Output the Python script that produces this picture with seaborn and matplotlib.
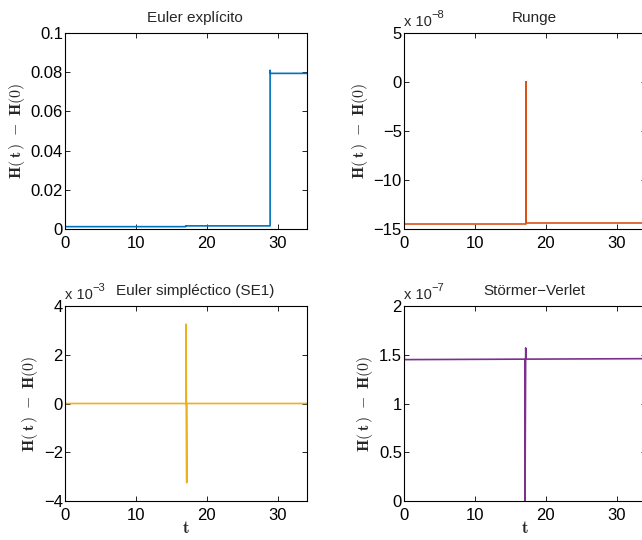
import numpy as np
import pandas as pd
import matplotlib
matplotlib.use("Agg")
import matplotlib.pyplot as plt
import seaborn as sns
from matplotlib.ticker import FuncFormatter
from matplotlib.transforms import offset_copy

# ---------------- data ----------------
titles = ["Euler explícito", "Runge", "Euler simpléctico (SE1)", "Störmer−Verlet"]
colors = ["#0072BD", "#D95319", "#EDB120", "#7E2F8E"]
exponents = [None, -8, -3, -7]

t_euler = [0, 17.0, 17.0, 28.9, 28.9, 28.95, 34.2]
h_euler = [0.0012, 0.0012, 0.0016, 0.0016, 0.081, 0.0794, 0.0794]

t_runge = [0, 0, 17.15, 17.15, 17.25, 17.25, 34.2]
h_runge = [0.0, -14.5, -14.5, 0.0, 0.0, -14.4, -14.4]          # x 1e-8

t_se1 = [0, 0, 17.05, 17.05, 17.15, 17.15, 34.2]
h_se1 = [0.3, 0.0, 0.0, 3.25, -3.25, 0.0, 0.0]                 # x 1e-3

t_sv = [0, 0, 0.05, 17.05, 17.05, 17.15, 17.2, 34.2]
h_sv = [0.0, 1.57, 1.45, 1.455, 0.0, 1.57, 1.455, 1.46]        # x 1e-7

series_t = [t_euler, t_runge, t_se1, t_sv]
series_h = [h_euler, h_runge, h_se1, h_sv]

ylims = [(0, 0.1), (-15, 5), (-4, 4), (0, 2)]
yticks = [[0, 0.02, 0.04, 0.06, 0.08, 0.1], [-15, -10, -5, 0, 5],
          [-4, -2, 0, 2, 4], [0, 0.5, 1, 1.5, 2]]
xticks = [0, 10, 20, 30]
xlim = (0, 34.1)

# ---------------- style ----------------
sns.set_style("ticks")
plt.rcParams["font.family"] = ["Liberation Sans", "DejaVu Sans"]
plt.rcParams["mathtext.fontset"] = "cm"
plt.rcParams["axes.unicode_minus"] = True

fig = plt.figure(figsize=(6.42, 5.40), dpi=100)
W, H = 642, 540
boxes = [(65, 33, 242, 196), (404, 33, 242, 196),
         (65, 306, 242, 195), (404, 306, 242, 195)]

def fmt(v, pos):
    s = ("%g" % v)
    return s.replace("-", "\u2212")

for i in range(4):
    l, tp, w, h = boxes[i]
    ax = fig.add_axes([l / W, 1 - (tp + h) / H, w / W, h / H])
    df = pd.DataFrame({"t": series_t[i], "h": series_h[i]})
    sns.lineplot(data=df, x="t", y="h", ax=ax, sort=False, estimator=None,
                 color=colors[i], linewidth=1.2)
    ax.set_xlim(*xlim)
    ax.set_ylim(*ylims[i])
    ax.set_xticks(xticks)
    ax.set_yticks(yticks[i])
    ax.yaxis.set_major_formatter(FuncFormatter(fmt))
    ax.tick_params(direction="in", length=3.5, width=0.6, top=True, right=True,
                   labelsize=12, colors="black")
    ax.tick_params(axis="y", pad=1.5)
    ax.tick_params(axis="x", pad=5)
    for sp in ax.spines.values():
        sp.set_visible(True)
        sp.set_linewidth(0.8)
        sp.set_color("black")
    ax.set_ylabel(r"$\mathbf{H(\,t\,)\ -\ H(0)}$", fontsize=11.5, labelpad=2.5)
    if i >= 2:
        ax.set_xlabel(r"$\mathbf{t}$", fontsize=12, labelpad=-2)
    else:
        ax.set_xlabel("")
    ax.set_title(titles[i], fontsize=11, pad=8)
    ax.title.set_x(0.5 + 9.0 / w)
    if exponents[i] is not None:
        tr = offset_copy(ax.transAxes, fig=fig, x=0, y=5, units="points")
        ax.text(0.0, 1.0, "x 10", transform=tr,
                fontsize=10.5, ha="left", va="baseline")
        tr2 = offset_copy(ax.transAxes, fig=fig, x=19.5, y=10.5, units="points")
        ax.text(0.0, 1.0, "\u2212%d" % abs(exponents[i]), transform=tr2,
                fontsize=8, ha="left", va="baseline")
    ax.grid(False)

fig.savefig("out.png", dpi=100, facecolor="white")
